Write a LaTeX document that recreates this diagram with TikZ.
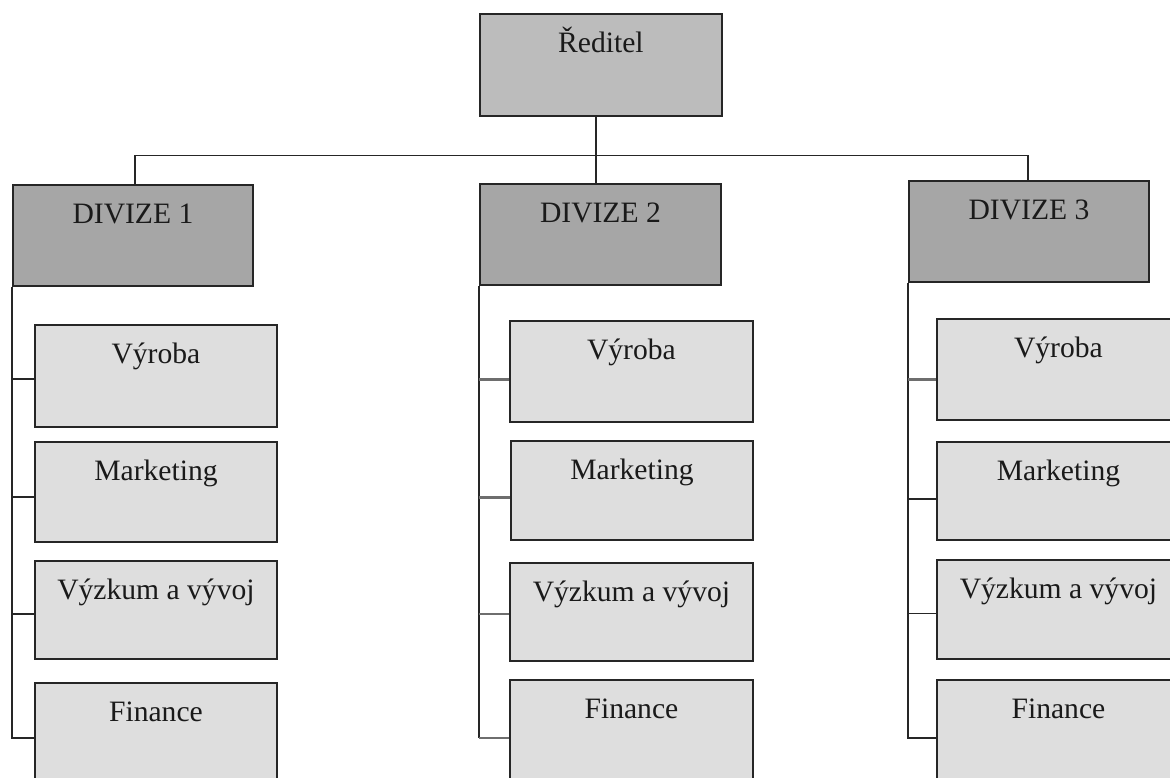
\documentclass[tikz,border=0pt]{standalone}
\usepackage{fontspec}
\setmainfont{Liberation Serif}
\definecolor{linec}{HTML}{262626}
\definecolor{stubgray}{HTML}{6E6E6E}
\definecolor{topfill}{HTML}{BCBCBC}
\definecolor{divfill}{HTML}{A6A6A6}
\definecolor{unitfill}{HTML}{DEDEDE}
\definecolor{textc}{HTML}{1A1A1A}
\tikzset{
  orgbox/.style={draw=linec, line width=1.9pt, inner sep=0pt, anchor=north west,
    text height=39pt, text=textc, font=\fontsize{29.6pt}{35pt}\selectfont},
  topbox/.style={orgbox, fill=topfill},
  divbox/.style={orgbox, fill=divfill},
  unitbox/.style={orgbox, fill=unitfill},
  conn/.style={draw=linec, line width=1.9pt},
  softconn/.style={draw=stubgray, line width=2.2pt}
}
\begin{document}
\begin{tikzpicture}[x=1pt, y=-1pt]
\useasboundingbox (0,0) rectangle (1170,778);
\fill[white] (0,0) rectangle (1170,778);
\clip (0,0) rectangle (1170,778);

% director
\node[topbox, minimum width=242pt, text depth=63pt] (dir) at (479,13) {Ředitel};

% divisions
\node[divbox, minimum width=240pt, text depth=62pt] (d1) at (12,184) {DIVIZE 1};
\node[divbox, minimum width=241pt, text depth=62pt] (d2) at (479,183) {DIVIZE 2};
\node[divbox, minimum width=240pt, text depth=62pt] (d3) at (908,180) {DIVIZE 3};

% units of division 1
\node[unitbox, minimum width=242pt, text depth=63pt] (c1a) at (34,324) {Výroba};
\node[unitbox, minimum width=242pt, text depth=61pt] (c1b) at (34,441) {Marketing};
\node[unitbox, minimum width=242pt, text depth=59pt] (c1c) at (34,560) {Výzkum a vývoj};
\node[unitbox, minimum width=242pt, text depth=61pt] (c1d) at (34,682) {Finance};

% units of division 2
\node[unitbox, minimum width=243pt, text depth=62pt] (c2a) at (509,320) {Výroba};
\node[unitbox, minimum width=242pt, text depth=60pt] (c2b) at (510,440) {Marketing};
\node[unitbox, minimum width=243pt, text depth=59pt] (c2c) at (509,562) {Výzkum a vývoj};
\node[unitbox, minimum width=243pt, text depth=61pt] (c2d) at (509,679) {Finance};

% units of division 3
\node[unitbox, minimum width=243pt, text depth=62pt] (c3a) at (936,318) {Výroba};
\node[unitbox, minimum width=243pt, text depth=59pt] (c3b) at (936,441) {Marketing};
\node[unitbox, minimum width=243pt, text depth=60pt] (c3c) at (936,559) {Výzkum a vývoj};
\node[unitbox, minimum width=243pt, text depth=61pt] (c3d) at (936,679) {Finance};

% director to the division bus
\coordinate (bus) at (596,155.5);
\draw[conn] (dir.south -| bus) -- (bus) -- (bus |- d2.north);
\draw[conn] ([xshift=2pt]d1.north) -- ([xshift=2pt]d1.north |- bus) -- ([xshift=-1pt]d3.north |- bus) -- ([xshift=-1pt]d3.north);

% stub points on the left side of each unit
\path ([yshift=-3pt]c1a.west) coordinate (t1a)
      ([yshift=-5pt]c1b.west) coordinate (t1b)
      ([yshift=-4pt]c1c.west) coordinate (t1c)
      ([yshift=-5pt]c1d.west) coordinate (t1d)
      ([yshift=-8pt]c2a.west) coordinate (t2a)
      ([yshift=-7pt]c2b.west) coordinate (t2b)
      ([yshift=-2pt]c2c.west) coordinate (t2c)
      ([yshift=-8pt]c2d.west) coordinate (t2d)
      ([yshift=-10pt]c3a.west) coordinate (t3a)
      ([yshift=-8pt]c3b.west) coordinate (t3b)
      ([yshift=-4pt]c3c.west) coordinate (t3c)
      ([yshift=-8pt]c3d.west) coordinate (t3d);

% division 1 spine
\draw[conn] (d1.south west) |- (t1d);
\foreach \t in {t1a,t1b,t1c} \draw[conn] (\t -| d1.west) -- (\t);

% division 2 spine
\draw[conn] (d2.south west) -- (d2.south west |- t2d);
\foreach \t in {t2a,t2b,t2c,t2d} \draw[softconn] (\t -| d2.west) -- (\t);

% division 3 spine
\draw[conn] (d3.south west) |- (t3d);
\draw[softconn] (t3a -| d3.west) -- (t3a);
\foreach \t in {t3b,t3c} \draw[conn] (\t -| d3.west) -- (\t);
\end{tikzpicture}
\end{document}
